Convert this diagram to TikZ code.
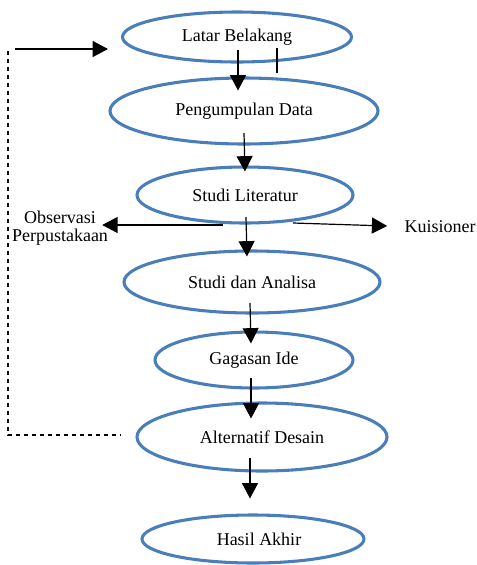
\documentclass[tikz,border=0pt]{standalone}
\usepackage{fontspec}
\setmainfont{Liberation Serif}
\usetikzlibrary{shapes.geometric,arrows.meta,calc}
\newdimen\px \px=0.75pt
\definecolor{ellblue}{HTML}{4A7EBB}
\tikzset{
  stage/.style={ellipse, draw=ellblue, line width=2.3pt, inner sep=0pt,
    font=\fontsize{13.5}{15}\selectfont},
  lbl/.style={inner sep=0pt, font=\fontsize{13.5}{15}\selectfont, align=center},
  arr/.style={line width=0.9pt, -{Triangle[length=11.5pt,width=12pt]}},
  back/.style={line width=0.8pt, dash pattern=on 3pt off 3pt}
}
\begin{document}
\begin{tikzpicture}[x=0.75pt, y=-0.75pt]
\useasboundingbox (0,0) rectangle (477,565);
\node[stage, minimum width=229\px, minimum height=50\px] (lb) at (237,37) {Latar Belakang};
\node[stage, minimum width=268\px, minimum height=66\px] (pd) at (244,111) {Pengumpulan Data};
\node[stage, minimum width=216\px, minimum height=56\px] (sl) at (245,195) {Studi Literatur};
\node[stage, minimum width=256\px, minimum height=62\px] (sa) at (252,282) {Studi dan Analisa};
\node[stage, minimum width=198\px, minimum height=56\px] (gi) at (254,360) {Gagasan Ide};
\node[stage, minimum width=250\px, minimum height=68\px] (ad) at (262,437) {Alternatif Desain};
\node[stage, minimum width=222\px, minimum height=48\px] (ha) at (253,539) {\hspace*{9pt}Hasil Akhir};
\node[lbl] (obs) at (60,228) {Observasi\\[-2pt]Perpustakaan};
\node[lbl] (kui) at (440,227) {Kuisioner};
\coordinate (fb) at (15,49);
\coordinate (dtop) at (8,51);

\draw[arr] ($(lb.center)+(1,13)$) -- ($(pd.north)+(-6,14)$);
\draw[line width=0.8pt] ($(lb.center)+(40,11)$) -- ($(lb.center)+(40,36)$);
\draw[arr] ($(pd.center)+(0,22)$) -- ($(sl.north)+(0,6)$);
\draw[arr] ($(sl.center)+(1,22)$) -- ($(sa.north)+(-5,7)$);
\draw[arr] ($(sl.center)+(-22,30)$) -- ($(obs.east)+(-6,-3)$);
\draw[arr] ($(sl.center)+(48,28)$) -- ($(kui.west)+(-17,-1)$);
\draw[arr] ($(sa.center)+(-2,21)$) -- ($(gi.north)+(-3,13)$);
\draw[arr] ($(gi.center)+(-3,18)$) -- ($(ad.north)+(-11,17)$);
\draw[arr] ($(ad.center)+(-12,21)$) -- ($(ha.north)+(-3,-15)$);
\draw[arr] (fb) -- ($(lb.west)+(-13,12)$);
\draw[back] (dtop) |- ($(ad.west)+(-14,-2)$);
\end{tikzpicture}
\end{document}
